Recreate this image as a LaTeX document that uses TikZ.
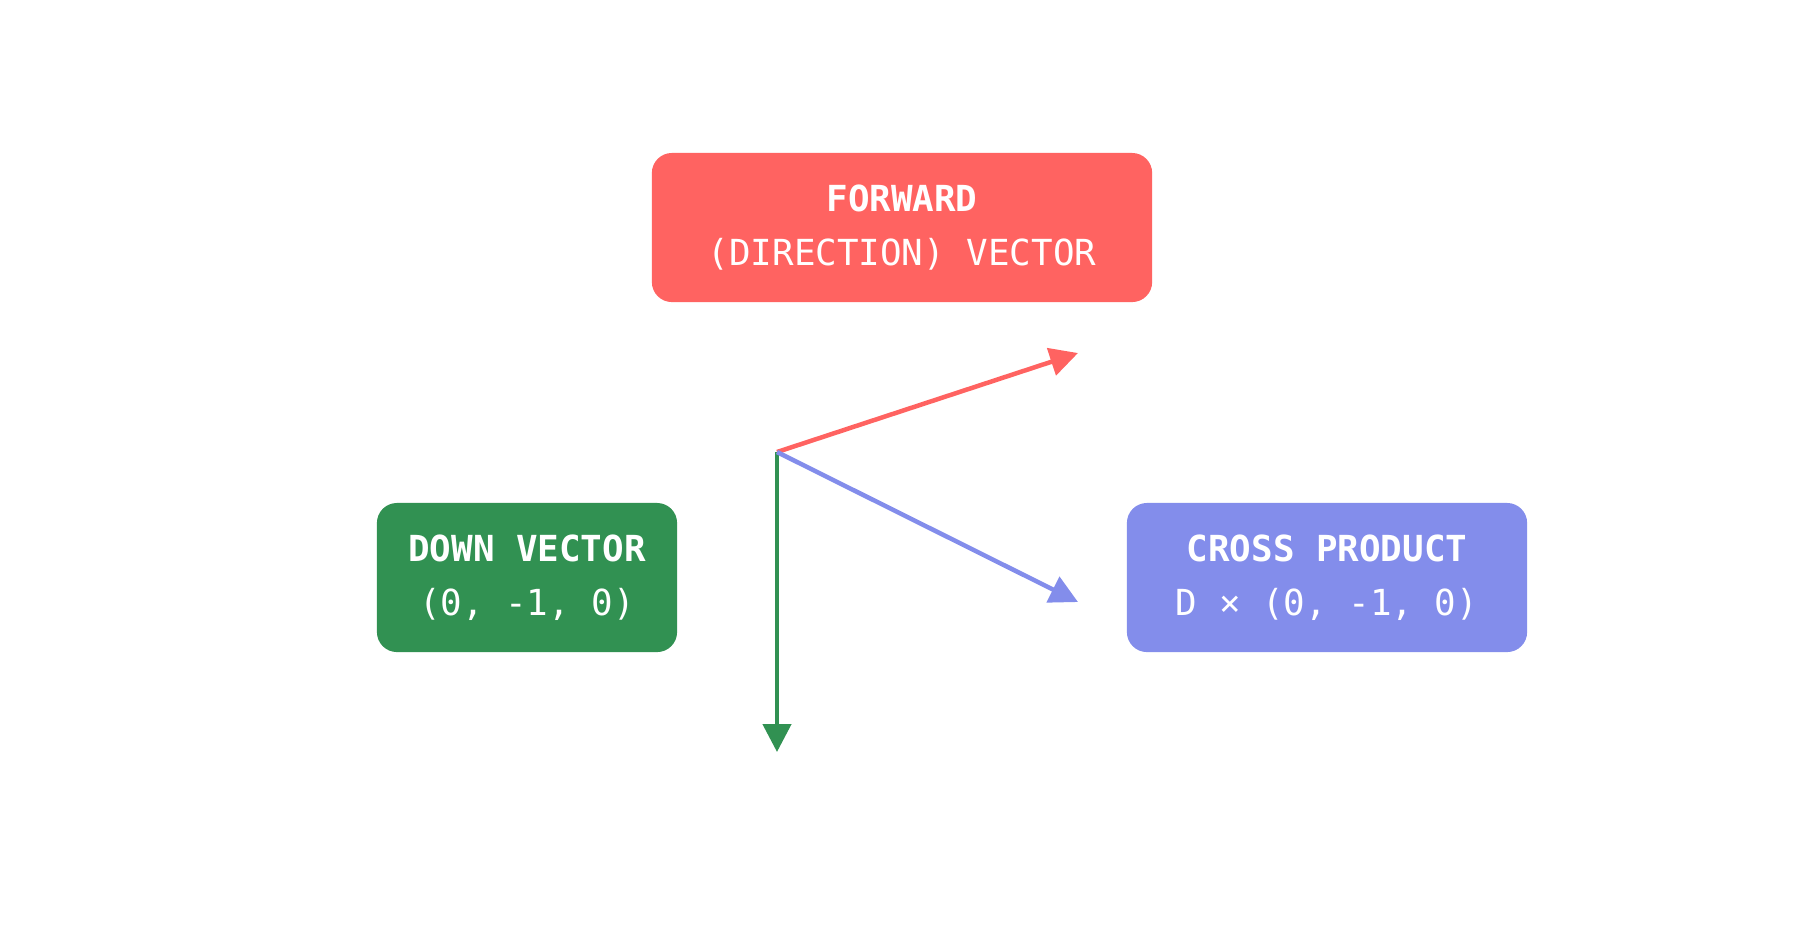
\documentclass[tikz,border=0pt]{standalone}
\usepackage{fontspec}
\setmonofont{DejaVu Sans Mono}
\usetikzlibrary{arrows.meta}

\definecolor{fwdred}{RGB}{255,99,97}
\definecolor{downgreen}{RGB}{49,145,82}
\definecolor{crossblue}{RGB}{131,141,235}

\begin{document}
\begin{tikzpicture}[x=0.01cm,y=-0.01cm,
	box/.style={rounded corners=0.2cm, text=white, inner sep=0pt, align=center,
		minimum height=1.49cm, font=\ttfamily\fontsize{10.2}{15.2}\selectfont},
	vec/.style={line width=0.045cm, -{Triangle[length=0.28cm,width=0.28cm]}}
	]
	\useasboundingbox (0,0) rectangle (1800,950);
	\node[box, fill=fwdred, minimum width=5cm] (forward) at (902,227.5)
		{\textbf{FORWARD}\\(DIRECTION) VECTOR};
	\node[box, fill=downgreen, minimum width=3cm] (down) at (527,577.5)
		{\textbf{DOWN VECTOR}\\(0, -1, 0)};
	\node[box, fill=crossblue, minimum width=4cm] (cross) at (1327,577.5)
		{\textbf{CROSS PRODUCT}\\D × (0, -1, 0)};
	
	\coordinate (origin) at (777,452);
	\coordinate (fwdtip) at (1078,353);
	\coordinate (crosstip) at (1078,602);
	\coordinate (downtip) at (777,752);
	
	\draw[vec, downgreen] (origin) -- (downtip);
	\draw[vec, fwdred] (origin) -- (fwdtip);
	\draw[vec, crossblue] (origin) -- (crosstip);
	
\end{tikzpicture}
\end{document}
